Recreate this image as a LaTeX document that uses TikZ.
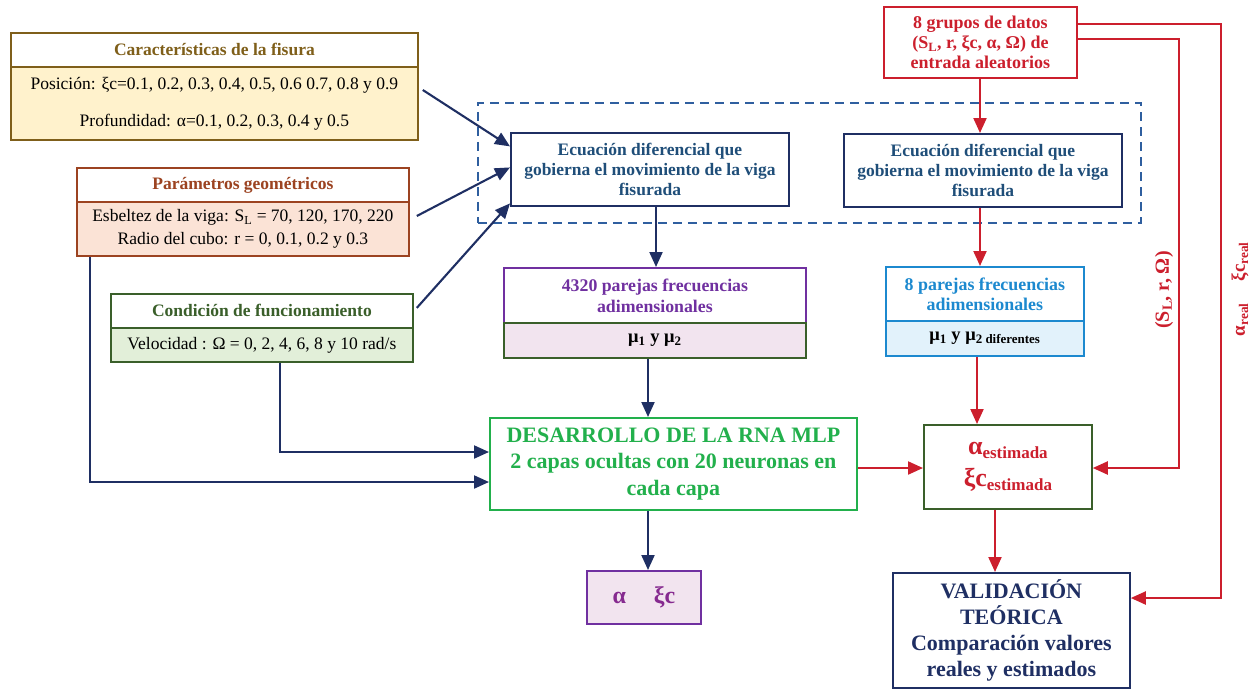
\documentclass[tikz,border=0pt]{standalone}
\usepackage{fontspec}
\setmainfont{Liberation Serif}
\usetikzlibrary{arrows.meta,calc}
\definecolor{navy}{HTML}{1F2F63}
\definecolor{redc}{HTML}{CC1F2D}
\definecolor{brownc}{HTML}{7F5F1A}
\definecolor{yelf}{HTML}{FFF2CC}
\definecolor{parc}{HTML}{9C4321}
\definecolor{parf}{HTML}{FBE3D6}
\definecolor{greenc}{HTML}{3A5F2A}
\definecolor{greenf}{HTML}{E2EFD9}
\definecolor{ecuc}{HTML}{1F4E79}
\definecolor{dblue}{HTML}{2F5F9F}
\definecolor{purc}{HTML}{7030A0}
\definecolor{pinkf}{HTML}{F2E4EF}
\definecolor{bluec}{HTML}{1C89CF}
\definecolor{bluef}{HTML}{E2F2FB}
\definecolor{grc}{HTML}{22B04C}
\definecolor{axc}{HTML}{862A8F}
\begin{document}
\begin{tikzpicture}[x=1pt,y=-1pt,
  box/.style={draw, line width=1.8pt, rectangle, anchor=north west, inner sep=0pt, align=center},
  nv/.style={-{Triangle[length=15pt,width=13pt]}, line width=2.1pt, draw=navy},
  rd/.style={-{Triangle[length=15pt,width=13pt]}, line width=2.1pt, draw=redc}]
\useasboundingbox (0,0) rectangle (1258,689);
% dashed group
\node[draw=dblue, dashed, dash pattern=on 9pt off 6pt, line width=1.8pt, anchor=north west, inner sep=0pt, minimum width=663pt, minimum height=120pt] (dash) at (477,102) {};
% Caracteristicas
\node[box, draw=brownc, fill=white, text=brownc, minimum width=407pt, minimum height=34pt, font=\fontsize{17.5}{20}\selectfont\bfseries] (carh) at (10,32) {Características de la fisura};
\node[box, draw=brownc, fill=yelf, minimum width=407pt, minimum height=73pt, font=\fontsize{17.5}{21}\selectfont] (carb) at (10,66) {Posición: ξc=0.1, 0.2, 0.3, 0.4, 0.5, 0.6 0.7, 0.8 y 0.9\\[16pt]Profundidad: α=0.1, 0.2, 0.3, 0.4 y 0.5};
% Parametros
\node[box, draw=parc, fill=white, text=parc, minimum width=332pt, minimum height=34pt, font=\fontsize{17.5}{20}\selectfont\bfseries] (parh) at (76,167) {Parámetros geométricos};
\node[box, draw=parc, fill=parf, minimum width=332pt, minimum height=54pt, font=\fontsize{17.5}{23}\selectfont] (parb) at (76,201) {Esbeltez de la viga: S\textsubscript{L} = 70, 120, 170, 220\\Radio del cubo: r = 0, 0.1, 0.2 y 0.3};
% Condicion
\node[box, draw=greenc, fill=white, text=greenc, minimum width=302pt, minimum height=34pt, font=\fontsize{17.5}{20}\selectfont\bfseries] (conh) at (110,293) {Condición de funcionamiento};
\node[box, draw=greenc, fill=greenf, minimum width=302pt, minimum height=34pt, font=\fontsize{17.5}{20}\selectfont] (conb) at (110,327) {Velocidad : Ω = 0, 2, 4, 6, 8 y 10 rad/s};
% Ecuaciones
\node[box, draw=navy, fill=white, text=ecuc, minimum width=278pt, minimum height=73pt, font=\fontsize{17.5}{20}\selectfont\bfseries] (e1) at (510,132) {Ecuación diferencial que\\gobierna el movimiento de la viga\\fisurada};
\node[box, draw=navy, fill=white, text=ecuc, minimum width=278pt, minimum height=73pt, font=\fontsize{17.5}{20}\selectfont\bfseries] (e2) at (843,133) {Ecuación diferencial que\\gobierna el movimiento de la viga\\fisurada};
% grupos
\node[box, draw=redc, fill=white, text=redc, minimum width=193pt, minimum height=71pt, font=\fontsize{18}{20}\selectfont\bfseries] (gr) at (883,6) {8 grupos de datos\\(S\textsubscript{L}, r, ξc, α, Ω) de\\entrada aleatorios};
% 4320
\node[box, draw=purc, fill=white, text=purc, minimum width=302pt, minimum height=55pt, font=\fontsize{17.8}{21}\selectfont\bfseries] (p1h) at (503,267) {4320 parejas frecuencias\\adimensionales};
\node[box, draw=greenc, fill=pinkf, minimum width=302pt, minimum height=35pt, font=\fontsize{18.5}{20}\selectfont\bfseries] (p1b) at (503,322) {μ\textsubscript{1} y μ\textsubscript{2}};
% 8 parejas
\node[box, draw=bluec, fill=white, text=bluec, minimum width=198pt, minimum height=54pt, font=\fontsize{17.9}{20}\selectfont\bfseries] (prh) at (885,266) {8 parejas frecuencias\\adimensionales};
\node[box, draw=bluec, fill=bluef, minimum width=198pt, minimum height=35pt, font=\fontsize{18.5}{20}\selectfont\bfseries] (prb) at (885,320) {μ\textsubscript{1} y μ\textsubscript{2 diferentes}};
% desarrollo
\node[box, draw=grc, fill=white, text=grc, minimum width=367pt, minimum height=92pt, font=\fontsize{22}{26.5}\selectfont\bfseries] (des) at (489,417) {DESARROLLO DE LA RNA MLP\\2 capas ocultas con 20 neuronas en\\cada capa};
% alpha xi
\node[box, draw=purc, fill=pinkf, text=axc, minimum width=114pt, minimum height=53pt, font=\fontsize{24}{26}\selectfont\bfseries] (ax) at (586,570) {α\hspace{28pt}ξc};
% estimada
\node[box, draw=greenc, fill=white, text=redc, minimum width=168pt, minimum height=84pt, font=\fontsize{26}{32}\selectfont\bfseries] (est) at (923,424) {α\raisebox{-4pt}{\fontsize{17}{17}\selectfont estimada}\\ξc\raisebox{-4pt}{\fontsize{17}{17}\selectfont estimada}};
% validacion
\node[box, draw=navy, fill=white, text=navy, minimum width=237pt, minimum height=115pt, font=\fontsize{22}{25.7}\selectfont\bfseries] (val) at (892,572) {VALIDACIÓN\\TEÓRICA\\Comparación valores\\reales y estimados};
% coordinates
\coordinate (xa) at (656,0);
\coordinate (xb) at (648,0);
\coordinate (xd) at (980,0);
\coordinate (xf) at (977,0);
\coordinate (xg) at (995,0);
\coordinate (yh) at (0,468);
\coordinate (r1t) at (1221,24);
\coordinate (r1b) at (1221,598);
\coordinate (r2t) at (1179,39);
\coordinate (r2b) at (1179,468);
\coordinate (cx) at (280,452);
\coordinate (px) at (90,482);
% navy arrows
\draw[nv] ([xshift=4pt,yshift=-24pt]carb.north east) -- ([yshift=23pt]e1.west);
\draw[nv] ([xshift=7pt,yshift=-15pt]parb.north east) -- ([yshift=2pt]e1.west);
\draw[nv] ([xshift=3pt,yshift=3pt]conh.east) -- ([yshift=-34pt]e1.west);
\draw[nv] (xa |- e1.south) -- (xa |- p1h.north);
\draw[nv] (xb |- p1b.south) -- (xb |- des.north);
\draw[nv] (xb |- des.south) -- (xb |- ax.north);
\draw[nv] (cx |- conb.south) -- (cx) -- (cx -| des.west);
\draw[nv] (px |- parb.south) -- (px) -- (px -| des.west);
% red arrows
\draw[rd] (xd |- gr.south) -- (xd |- e2.north);
\draw[rd] (xd |- e2.south) -- (xd |- prh.north);
\draw[rd] (xf |- prb.south) -- (xf |- est.north);
\draw[rd] (xg |- est.south) -- (xg |- val.north);
\draw[rd] (yh -| des.east) -- (yh -| est.west);
\draw[rd] (r1t -| gr.east) -- (r1t) -- (r1b) -- (r1b -| val.east);
\draw[rd] (r2t -| gr.east) -- (r2t) -- (r2b) -- (r2b -| est.east);
% rotated labels
\node[rotate=90, text=redc, font=\fontsize{20}{22}\selectfont\bfseries, inner sep=0pt] (lab1) at (1164,290) {(S\textsubscript{L}, r, Ω)};
\node[rotate=90, text=redc, font=\fontsize{19}{21}\selectfont\bfseries, inner sep=0pt] (lab2) at (1240,289) {α\textsubscript{real}\hspace{22pt}ξc\textsubscript{real}};
\end{tikzpicture}
\end{document}
